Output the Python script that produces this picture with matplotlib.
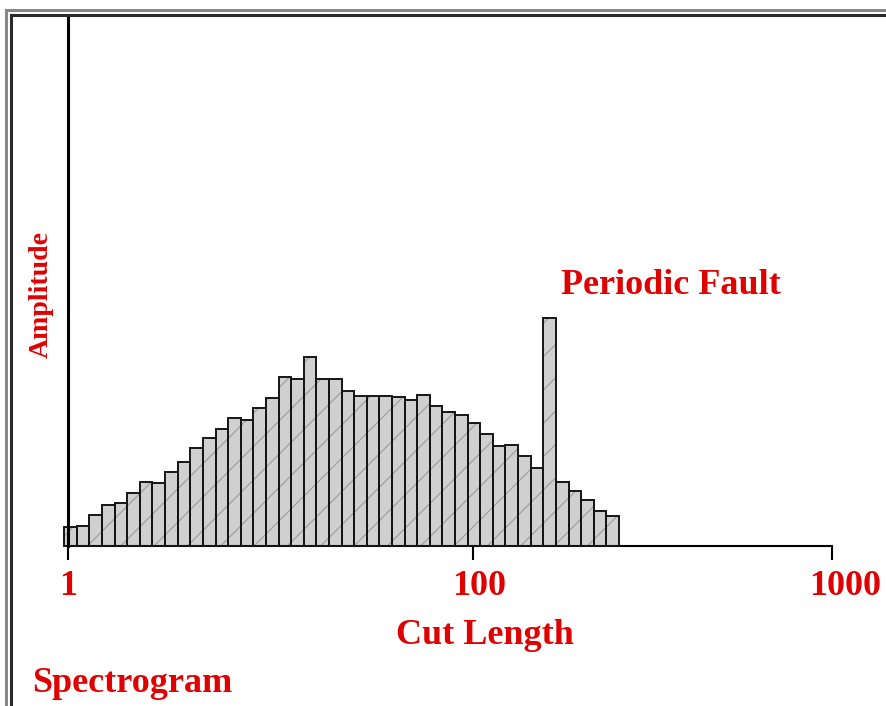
import numpy as np
import matplotlib.pyplot as plt
import matplotlib.transforms as mtransforms
from matplotlib.lines import Line2D

# amplitude of each spectrogram channel
amplitude = [19, 20, 30.7, 41.3, 42.7, 52.7, 64.3, 63.3, 74, 84.3,
             98.3, 107.7, 117, 128.3, 126.3, 137.7, 148, 169, 166.7, 189,
             167.3, 166.7, 155, 150, 150, 150, 149.3, 146, 150.7, 140,
             134, 130.7, 122.7, 112, 100, 100.7, 90, 78.3, 228.3, 64.3,
             55, 45.7, 35.3, 30]
tick_pos = [0.3, 32.4, 60.9]
tick_labels = ["1", "100", "1000"]

W, H = 886, 706
RED = "#e00000"
FONT = "Liberation Serif"

fig = plt.figure(figsize=(W / 100, H / 100), dpi=100)
fig.patch.set_facecolor("white")

# axes placed in pixel terms
left, right, top, bottom = 68, 832, 18, 546
ax = fig.add_axes([left / W, 1 - bottom / H, (right - left) / W, (bottom - top) / H])

x = np.arange(len(amplitude)) + 0.5
# fill + faint hatch, then outlines on top
plt.rcParams["hatch.linewidth"] = 0.9
ax.bar(x, amplitude, width=1.0, color="#d0d0d0", edgecolor="#a0a0a0",
       linewidth=0, hatch="/", zorder=2, clip_on=False)
ax.bar(x, amplitude, width=1.0, fill=False, edgecolor="#151515",
       linewidth=1.4, zorder=3, clip_on=False)

ax.set_xlim(0.3, 60.9)
ax.set_ylim(0, 528)
ax.set_yticks([])
for s in ["top", "right"]:
    ax.spines[s].set_visible(False)
ax.spines["left"].set_linewidth(2.2)
ax.spines["bottom"].set_linewidth(1.5)
ax.spines["left"].set_zorder(4)

ax.set_xticks(tick_pos, tick_labels)
ax.tick_params(axis="x", direction="out", length=10, width=1.5, pad=7,
               labelsize=26, labelcolor=RED)
for lab in ax.get_xticklabels():
    lab.set_fontfamily(FONT)
    lab.set_fontweight("bold")
labs = ax.get_xticklabels()
for lab, dx in zip(labs, [0, 6, 13]):
    lab.set_transform(lab.get_transform() +
                      mtransforms.ScaledTranslation(dx / 100, 0, fig.dpi_scale_trans))

def px(xp, yp):
    return xp / W, 1 - yp / H

txt = dict(color=RED, fontfamily=FONT, fontweight="bold")
fig.text(*px(671, 285), "Periodic Fault", ha="center", va="center", fontsize=26, **txt)
fig.text(*px(485, 635), "Cut Length", ha="center", va="center", fontsize=26, **txt)
fig.text(*px(32, 684), "Spectrogram", ha="left", va="center", fontsize=26, **txt)
fig.text(*px(41, 294), "Amplitude", ha="center", va="center", rotation=90,
         fontsize=20, **txt)

# double page frame
fig.add_artist(Line2D([5.5 / W, 1], [1 - 9.5 / H, 1 - 9.5 / H], color="#888888", lw=2.2))
fig.add_artist(Line2D([5.5 / W, 5.5 / W], [0, 1 - 9.5 / H], color="#888888", lw=2.2))
fig.add_artist(Line2D([11 / W, 1], [1 - 14.5 / H, 1 - 14.5 / H], color="#2a2a2a", lw=2.2))
fig.add_artist(Line2D([11 / W, 11 / W], [0, 1 - 14.5 / H], color="#2a2a2a", lw=2.2))

fig.savefig("out.png", dpi=100)
